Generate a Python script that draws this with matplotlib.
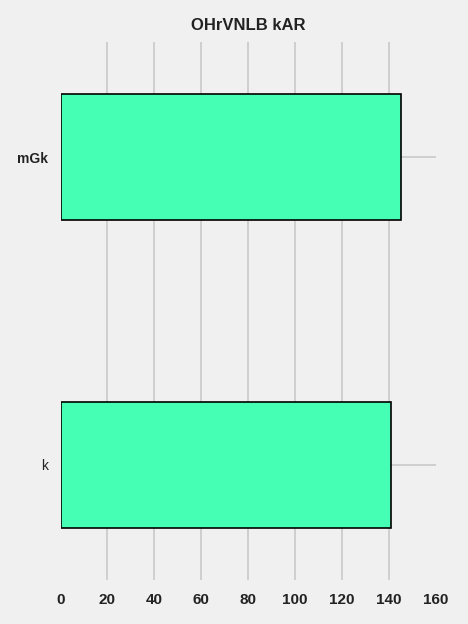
import numpy as np
import matplotlib
matplotlib.use("Agg")
from matplotlib import pyplot as plt

categories = ["k", "mGk"]
values = [141, 145]
xticks = [0, 20, 40, 60, 80, 100, 120, 140, 160]

plt.rcParams['font.family'] = ['Liberation Sans', 'DejaVu Sans']

fig = plt.figure(figsize=(4.68, 6.24), dpi=100, facecolor='#f0f0f0')
ax = fig.add_axes([60.5 / 468, 1 - 580 / 624, (436 - 60.5) / 468, (580 - 42) / 624])
ax.set_facecolor('#f0f0f0')

y = np.arange(len(categories))
ax.barh(y, values, height=0.41, color='#45ffb4', edgecolor='black', linewidth=1.2, zorder=3)

ax.set_xlim(0, 160)
ax.set_ylim(-0.375, 1.375)
ax.set_xticks(xticks)
ax.set_xticklabels([str(t) for t in xticks], fontsize=11, fontweight='bold', color='#222222')
ax.set_yticks(y)
ax.set_yticklabels(categories, fontsize=10, color='#222222')
ax.get_yticklabels()[1].set_fontweight('bold')
ax.tick_params(axis='both', length=0)
ax.tick_params(axis='x', pad=9)
ax.tick_params(axis='y', pad=9)

ax.grid(True, color='#cccccc', linewidth=1.3, zorder=0)
ax.set_axisbelow(True)
gl = ax.xaxis.get_gridlines()
gl[0].set_visible(False)
gl[-1].set_visible(False)
for s in ax.spines.values():
    s.set_visible(False)

ax.set_title('OHrVNLB kAR', fontsize=12, fontweight='bold', color='#222222', pad=9)

plt.savefig('out.png', dpi=100, facecolor='#f0f0f0')
